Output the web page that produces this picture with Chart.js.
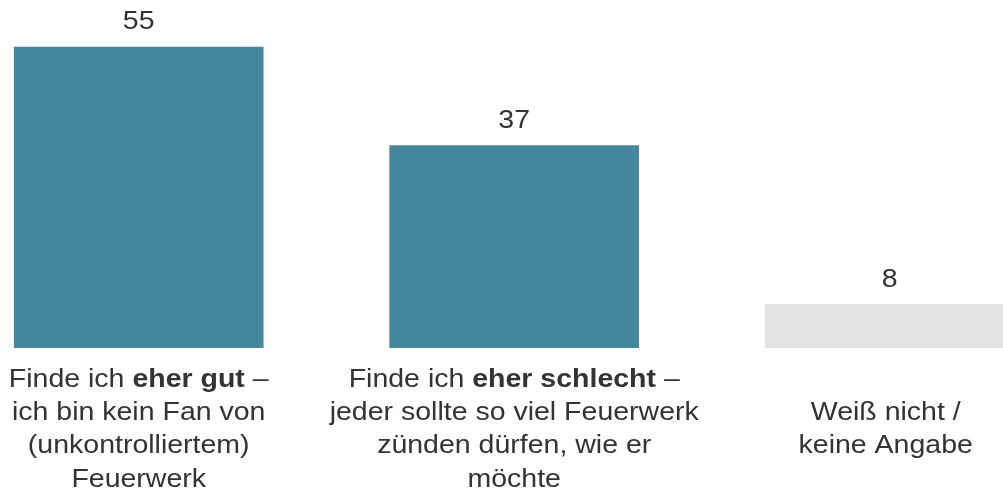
<!DOCTYPE html>
<html lang="de">
<head>
<meta charset="utf-8">
<title>Feuerwerk</title>
<script src="https://cdn.jsdelivr.net/npm/chart.js@4/dist/chart.umd.min.js"></script>
<style>
  html, body { margin: 0; padding: 0; background: #ffffff; }
  #wrap { width: 1003px; height: 492px; position: relative; }
</style>
</head>
<body>
<div id="wrap"><canvas id="c" width="1003" height="492"></canvas></div>
<script>
// Antworten (in Prozent)
const values = [55, 37, 8];
const barColors = ['#45879c', '#45879c', '#e3e3e3'];

// Beschriftungen unter den Balken: Zeilen aus [Text, fett]
const categoryLines = [
  [
    [['Finde ich ', false], ['eher gut', true], [' –', false]],
    [['ich bin kein Fan von', false]],
    [['(unkontrolliertem)', false]],
    [['Feuerwerk', false]]
  ],
  [
    [['Finde ich ', false], ['eher schlecht', true], [' –', false]],
    [['jeder sollte so viel Feuerwerk', false]],
    [['zünden dürfen, wie er', false]],
    [['möchte', false]]
  ],
  [
    [['Weiß nicht /', false]],
    [['keine Angabe', false]]
  ]
];

const FONT_FAMILY = '"Liberation Sans", Arial, Helvetica, sans-serif';
const TEXT_COLOR = '#333333';
const FONT_SIZE = 25;
const TEXT_STRETCH = 1.14;   // etwas breitere Laufweite der Schrift
const LINE_HEIGHT = 33.3;

// Text zentriert um cx zeichnen, aus normalen und fetten Teilen
function drawRichLine(ctx, segs, cx, y) {
  let total = 0;
  const widths = segs.map(([t, b]) => {
    ctx.font = (b ? 'bold ' : '') + FONT_SIZE + 'px ' + FONT_FAMILY;
    const w = ctx.measureText(t).width;
    total += w;
    return w;
  });
  ctx.save();
  ctx.translate(cx, y);
  ctx.scale(TEXT_STRETCH, 1);
  let x = -total / 2;
  segs.forEach(([t, b], si) => {
    ctx.font = (b ? 'bold ' : '') + FONT_SIZE + 'px ' + FONT_FAMILY;
    ctx.fillText(t, x, 0);
    x += widths[si];
  });
  ctx.restore();
}

const labelPlugin = {
  id: 'barLabels',
  afterDatasetsDraw(chart) {
    const ctx = chart.ctx;
    const meta = chart.getDatasetMeta(0);
    const base = chart.scales.y.getPixelForValue(0);
    ctx.save();
    ctx.fillStyle = TEXT_COLOR;
    ctx.textBaseline = 'alphabetic';
    ctx.textAlign = 'left';
    meta.data.forEach((bar, i) => {
      // Wert über dem Balken
      drawRichLine(ctx, [[String(values[i]), false]], bar.x, bar.y - 17.5);

      // Kategorie unter dem Balken, Block vertikal zentriert
      const lines = categoryLines[i];
      const blockCenter = base + 38.7 + 1.5 * LINE_HEIGHT;
      const firstBaseline = blockCenter - (lines.length - 1) / 2 * LINE_HEIGHT;
      const cx = i === 2 ? bar.x - 4 : bar.x;
      lines.forEach((segs, li) => {
        drawRichLine(ctx, segs, cx, firstBaseline + li * LINE_HEIGHT);
      });
    });
    ctx.restore();
  }
};

new Chart(document.getElementById('c'), {
  type: 'bar',
  data: {
    datasets: [{
      data: values.map((v, i) => ({ x: i, y: v })),
      backgroundColor: barColors,
      borderWidth: 0,
      barThickness: 249
    }]
  },
  options: {
    responsive: false,
    animation: false,
    devicePixelRatio: 1,
    layout: { padding: { top: 19.6, bottom: 144, left: 0, right: 0 } },
    plugins: { legend: { display: false }, tooltip: { enabled: false } },
    scales: {
      x: {
        type: 'linear',
        offset: false,
        min: -0.3694,
        max: 2.3017,
        display: false,
        grid: { display: false }
      },
      y: {
        min: 0,
        max: 60,
        display: false,
        grid: { display: false }
      }
    }
  },
  plugins: [labelPlugin]
});
</script>
</body>
</html>
